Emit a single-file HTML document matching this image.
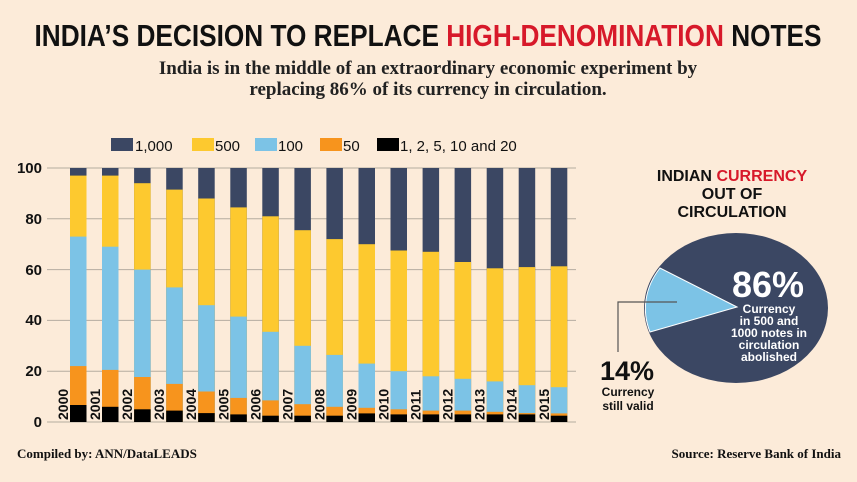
<!DOCTYPE html>
<html><head><meta charset="utf-8"><style>
html,body{margin:0;padding:0;background:#fcebd9;}
svg{display:block}
</style></head><body>
<svg width="857" height="482" viewBox="0 0 857 482" xmlns="http://www.w3.org/2000/svg">
<defs>
<g id="nv"><rect x="0" y="168" width="16.5" height="254" fill="#3b4763"/></g>
</defs>
<rect width="857" height="482" fill="#fcebd9"/>
<text x="428" y="46" text-anchor="middle" font-family="Liberation Sans Narrow, Liberation Sans, sans-serif" font-weight="bold" font-size="31" textLength="787" lengthAdjust="spacingAndGlyphs" fill="#111">INDIA’S DECISION TO REPLACE <tspan fill="#d7192a">HIGH-DENOMINATION</tspan> NOTES</text>
<text x="428" y="74" text-anchor="middle" font-family="Liberation Serif, serif" font-weight="bold" font-size="19" fill="#222">India is in the middle of an extraordinary economic experiment by</text>
<text x="428" y="95" text-anchor="middle" font-family="Liberation Serif, serif" font-weight="bold" font-size="19" fill="#222">replacing 86% of its currency in circulation.</text>
<g font-family="Liberation Sans, sans-serif" font-size="15" fill="#111">
<rect x="111" y="138" width="22" height="13" fill="#3b4763"/><text x="135" y="151">1,000</text>
<rect x="192" y="138" width="22" height="13" fill="#fdc92f"/><text x="215" y="151">500</text>
<rect x="255" y="138" width="22" height="13" fill="#7cc3e6"/><text x="278" y="151">100</text>
<rect x="320" y="138" width="22" height="13" fill="#f7941d"/><text x="343" y="151">50</text>
<rect x="377" y="138" width="22" height="13" fill="#000"/><text x="400" y="151">1, 2, 5, 10 and 20</text>
</g>
<g stroke="#b5aca0" stroke-width="1">
<line x1="47" x2="576" y1="168" y2="168"/><line x1="47" x2="576" y1="218.8" y2="218.8"/>
<line x1="47" x2="576" y1="269.6" y2="269.6"/><line x1="47" x2="576" y1="320.4" y2="320.4"/>
<line x1="47" x2="576" y1="371.2" y2="371.2"/><line x1="47" x2="576" y1="422" y2="422"/>
</g>
<g font-family="Liberation Sans, sans-serif" font-weight="bold" font-size="15" fill="#111" text-anchor="end">
<text x="42" y="173">100</text><text x="42" y="224">80</text><text x="42" y="275">60</text>
<text x="42" y="325">40</text><text x="42" y="376">20</text><text x="42" y="427">0</text>
</g>
<g>
<g transform="translate(70,0)"><use href="#nv"/><rect y="175.6" width="16.5" height="246.4" fill="#fdc92f"/><rect y="236.6" width="16.5" height="185.4" fill="#7cc3e6"/><rect y="366.1" width="16.5" height="55.9" fill="#f7941d"/><rect y="405" width="16.5" height="17" fill="#000"/></g>
<g transform="translate(102,0)"><use href="#nv"/><rect y="175.6" width="16.5" height="246.4" fill="#fdc92f"/><rect y="246.7" width="16.5" height="175.3" fill="#7cc3e6"/><rect y="369.9" width="16.5" height="52.1" fill="#f7941d"/><rect y="406.8" width="16.5" height="15.2" fill="#000"/></g>
<g transform="translate(134.1,0)"><use href="#nv"/><rect y="183.2" width="16.5" height="238.8" fill="#fdc92f"/><rect y="269.6" width="16.5" height="152.4" fill="#7cc3e6"/><rect y="377" width="16.5" height="45" fill="#f7941d"/><rect y="409.3" width="16.5" height="12.7" fill="#000"/></g>
<g transform="translate(166.2,0)"><use href="#nv"/><rect y="189.6" width="16.5" height="232.4" fill="#fdc92f"/><rect y="287.4" width="16.5" height="134.6" fill="#7cc3e6"/><rect y="383.9" width="16.5" height="38.1" fill="#f7941d"/><rect y="410.6" width="16.5" height="11.4" fill="#000"/></g>
<g transform="translate(198.2,0)"><use href="#nv"/><rect y="198.5" width="16.5" height="223.5" fill="#fdc92f"/><rect y="305.2" width="16.5" height="116.8" fill="#7cc3e6"/><rect y="391.5" width="16.5" height="30.5" fill="#f7941d"/><rect y="413.1" width="16.5" height="8.9" fill="#000"/></g>
<g transform="translate(230.3,0)"><use href="#nv"/><rect y="207.4" width="16.5" height="214.6" fill="#fdc92f"/><rect y="316.6" width="16.5" height="105.4" fill="#7cc3e6"/><rect y="397.9" width="16.5" height="24.1" fill="#f7941d"/><rect y="414.4" width="16.5" height="7.6" fill="#000"/></g>
<g transform="translate(262.3,0)"><use href="#nv"/><rect y="216.3" width="16.5" height="205.7" fill="#fdc92f"/><rect y="331.8" width="16.5" height="90.2" fill="#7cc3e6"/><rect y="400.4" width="16.5" height="21.6" fill="#f7941d"/><rect y="415.7" width="16.5" height="6.3" fill="#000"/></g>
<g transform="translate(294.4,0)"><use href="#nv"/><rect y="230.2" width="16.5" height="191.8" fill="#fdc92f"/><rect y="345.8" width="16.5" height="76.2" fill="#7cc3e6"/><rect y="404.2" width="16.5" height="17.8" fill="#f7941d"/><rect y="415.7" width="16.5" height="6.3" fill="#000"/></g>
<g transform="translate(326.4,0)"><use href="#nv"/><rect y="239.1" width="16.5" height="182.9" fill="#fdc92f"/><rect y="354.9" width="16.5" height="67.1" fill="#7cc3e6"/><rect y="406.8" width="16.5" height="15.2" fill="#f7941d"/><rect y="415.7" width="16.5" height="6.3" fill="#000"/></g>
<g transform="translate(358.5,0)"><use href="#nv"/><rect y="244.2" width="16.5" height="177.8" fill="#fdc92f"/><rect y="363.6" width="16.5" height="58.4" fill="#7cc3e6"/><rect y="407.8" width="16.5" height="14.2" fill="#f7941d"/><rect y="413.4" width="16.5" height="8.6" fill="#000"/></g>
<g transform="translate(390.5,0)"><use href="#nv"/><rect y="250.5" width="16.5" height="171.5" fill="#fdc92f"/><rect y="371.2" width="16.5" height="50.8" fill="#7cc3e6"/><rect y="409.3" width="16.5" height="12.7" fill="#f7941d"/><rect y="414.4" width="16.5" height="7.6" fill="#000"/></g>
<g transform="translate(422.6,0)"><use href="#nv"/><rect y="251.8" width="16.5" height="170.2" fill="#fdc92f"/><rect y="376.3" width="16.5" height="45.7" fill="#7cc3e6"/><rect y="410.6" width="16.5" height="11.4" fill="#f7941d"/><rect y="414.4" width="16.5" height="7.6" fill="#000"/></g>
<g transform="translate(454.6,0)"><use href="#nv"/><rect y="262" width="16.5" height="160" fill="#fdc92f"/><rect y="378.8" width="16.5" height="43.2" fill="#7cc3e6"/><rect y="410.6" width="16.5" height="11.4" fill="#f7941d"/><rect y="414.4" width="16.5" height="7.6" fill="#000"/></g>
<g transform="translate(486.7,0)"><use href="#nv"/><rect y="268.3" width="16.5" height="153.7" fill="#fdc92f"/><rect y="381.4" width="16.5" height="40.6" fill="#7cc3e6"/><rect y="411.8" width="16.5" height="10.2" fill="#f7941d"/><rect y="414.4" width="16.5" height="7.6" fill="#000"/></g>
<g transform="translate(518.7,0)"><use href="#nv"/><rect y="267.1" width="16.5" height="154.9" fill="#fdc92f"/><rect y="385.2" width="16.5" height="36.8" fill="#7cc3e6"/><rect y="413.1" width="16.5" height="8.9" fill="#f7941d"/><rect y="414.4" width="16.5" height="7.6" fill="#000"/></g>
<g transform="translate(550.8,0)"><use href="#nv"/><rect y="266.3" width="16.5" height="155.7" fill="#fdc92f"/><rect y="387.2" width="16.5" height="34.8" fill="#7cc3e6"/><rect y="413.4" width="16.5" height="8.6" fill="#f7941d"/><rect y="415.7" width="16.5" height="6.3" fill="#000"/></g>
</g>
<g font-family="Liberation Sans, sans-serif" font-weight="bold" font-size="14" fill="#111">
<text transform="translate(68,420) rotate(-90)">2000</text>
<text transform="translate(100,420) rotate(-90)">2001</text>
<text transform="translate(132.1,420) rotate(-90)">2002</text>
<text transform="translate(164.2,420) rotate(-90)">2003</text>
<text transform="translate(196.2,420) rotate(-90)">2004</text>
<text transform="translate(228.3,420) rotate(-90)">2005</text>
<text transform="translate(260.3,420) rotate(-90)">2006</text>
<text transform="translate(292.4,420) rotate(-90)">2007</text>
<text transform="translate(324.4,420) rotate(-90)">2008</text>
<text transform="translate(356.5,420) rotate(-90)">2009</text>
<text transform="translate(388.5,420) rotate(-90)">2010</text>
<text transform="translate(420.6,420) rotate(-90)">2011</text>
<text transform="translate(452.6,420) rotate(-90)">2012</text>
<text transform="translate(484.7,420) rotate(-90)">2013</text>
<text transform="translate(516.7,420) rotate(-90)">2014</text>
<text transform="translate(548.8,420) rotate(-90)">2015</text>
</g>
<g font-family="Liberation Sans, sans-serif" font-weight="bold" text-anchor="middle">
<text x="732" y="181" font-size="16" fill="#111">INDIAN <tspan fill="#d7192a">CURRENCY</tspan></text>
<text x="732" y="199" font-size="16" fill="#111">OUT OF</text>
<text x="732" y="217" font-size="16" fill="#111">CIRCULATION</text>
</g>
<ellipse cx="736" cy="308" rx="92" ry="75" fill="#3b4763"/>
<path d="M737,307 L660,268 A92,75 0 0 0 650,332 Z" fill="#7cc3e6" stroke="#fff" stroke-width="1"/>
<polyline points="677,302 618,302 618,352" fill="none" stroke="#555" stroke-width="1.2"/>
<g font-family="Liberation Sans, sans-serif" font-weight="bold" text-anchor="middle" fill="#fff">
<text x="768" y="297" font-size="36">86%</text>
<text x="769" y="313" font-size="12">Currency</text>
<text x="769" y="325" font-size="12">in 500 and</text>
<text x="769" y="337" font-size="12">1000 notes in</text>
<text x="769" y="349" font-size="12">circulation</text>
<text x="769" y="361" font-size="12">abolished</text>
</g>
<g font-family="Liberation Sans, sans-serif" font-weight="bold" text-anchor="middle" fill="#111">
<text x="627" y="380" font-size="27">14%</text>
<text x="628" y="396" font-size="12">Currency</text>
<text x="628" y="410" font-size="12">still valid</text>
</g>
<text x="17" y="458" font-family="Liberation Serif, serif" font-weight="bold" font-size="13" fill="#111">Compiled by: ANN/DataLEADS</text>
<text x="841" y="458" text-anchor="end" font-family="Liberation Serif, serif" font-weight="bold" font-size="13" fill="#111">Source: Reserve Bank of India</text>
</svg>
</body></html>
